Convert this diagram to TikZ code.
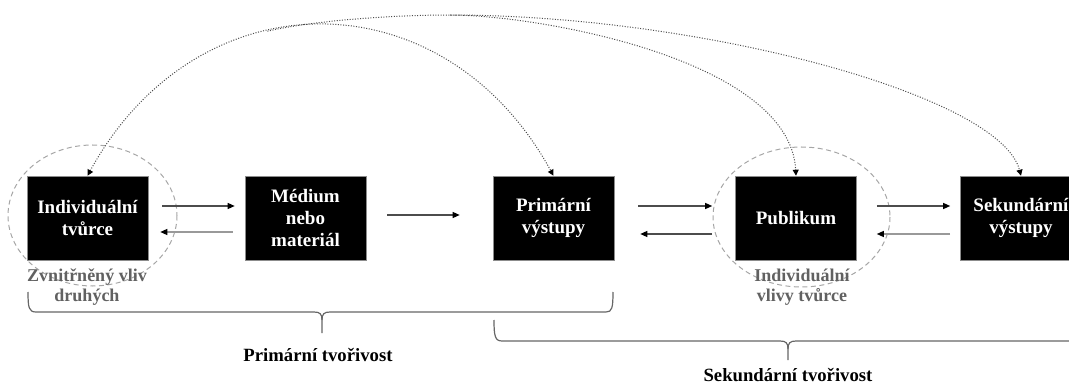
\documentclass[tikz,border=0pt]{standalone}
\usepackage{fontspec}
\setmainfont{Liberation Serif}
\usetikzlibrary{arrows.meta}
\tikzset{
  box/.style={fill=black, draw=black!45, line width=0.6pt, minimum width=121pt, minimum height=84pt,
    inner sep=0pt, text=white, font=\fontsize{19}{22}\selectfont\bfseries, align=center},
  flow/.style={draw=black!70, line width=1.3pt, -{Triangle[length=7pt,width=6pt,color=black]}},
  flowlight/.style={flow, draw=black!40},
  fb/.style={draw=black!70, line width=1pt, dash pattern=on 1pt off 1.6pt},
  fbtip/.style={-{Triangle[length=6pt,width=6pt,color=black]}},
  halo/.style={draw=black!35, line width=1pt, dash pattern=on 5pt off 3.5pt},
  note/.style={text=black!62, font=\fontsize{18}{20}\selectfont\bfseries, align=center, inner sep=0pt},
  bracket/.style={draw=black!60, line width=1.2pt},
  lab/.style={font=\fontsize{18.7}{22}\selectfont\bfseries, inner sep=0pt}
}
\begin{document}
\begin{tikzpicture}[x=1pt,y=-1pt]
\useasboundingbox (0,0) rectangle (1069,385);
\clip (0,0) rectangle (1069,385);

% halos
\draw[halo] (92.5,215.5) ellipse [x radius=84.5, y radius=70.5];
\draw[halo] (801.5,217) ellipse [x radius=88.5, y radius=70];

% boxes
\node[box] (b1) at (87.5,218) {Individuální\\tvůrce};
\node[box] (b2) at (305.5,218) {Médium\\nebo\\materiál};
\node[box] (b3) at (553.5,218) {Primární\\výstupy};
\node[box] (b4) at (796,218) {Publikum};
\node[box] (b5) at (1021,218) {Sekundární\\výstupy};

% flows
\draw[flow] ([yshift=12pt,xshift=14pt]b1.east) -- ([yshift=12pt,xshift=-10pt]b2.west);
\draw[flowlight] ([yshift=-14pt,xshift=-12pt]b2.west) -- ([yshift=-14pt,xshift=12pt]b1.east);
\draw[flow] ([yshift=3pt,xshift=21pt]b2.east) -- ([yshift=3pt,xshift=-33pt]b3.west);
\draw[flow] ([yshift=12pt,xshift=24pt]b3.east) -- ([yshift=12pt,xshift=-23pt]b4.west);
\draw[flow] ([yshift=-16pt,xshift=-23pt]b4.west) -- ([yshift=-16pt,xshift=26pt]b3.east);
\draw[flow] ([yshift=12pt,xshift=20pt]b4.east) -- ([yshift=12pt,xshift=-10pt]b5.west);
\draw[flowlight] ([yshift=-16pt,xshift=-10pt]b5.west) -- ([yshift=-16pt,xshift=20pt]b4.east);

% feedback arcs
\coordinate (jB) at (267.4,31.2);
\coordinate (pk) at (450,15);
\draw[fb, {Triangle[length=6pt,width=6pt,color=black]}-{Triangle[length=6pt,width=6pt,color=black]}]
  (b1.north) .. controls (197.5,-25) and (443.5,-25) .. (b3.north);
\draw[fb, fbtip] (jB) .. controls (311,21) and (390,15) .. (pk)
  .. controls (700,15) and (1000,95) .. (b5.north);
\draw[fb, fbtip] (pk) .. controls (540,15) and (790,60) .. (b4.north);

% notes
\node[note] (n1) at (87,287) {Zvnitřněný vliv\\druhých};
\node[note] (n2) at (802,287) {Individuální\\vlivy tvůrce};

% brackets
\draw[bracket] (28,292) .. controls (28,308) and (29,312) .. (36,312) -- (314,312)
  .. controls (320,312) and (322,314) .. (322,320) -- (322,333);
\draw[bracket] (322,320) .. controls (322,314) and (324,312) .. (330,312) -- (606,312)
  .. controls (612,312) and (613,308) .. (613,292);
\draw[bracket] (494,320) .. controls (494,336) and (495,341) .. (502,341) -- (780,341)
  .. controls (786,341) and (788,343) .. (788,349) -- (788,360);
\draw[bracket] (788,349) .. controls (788,343) and (790,341) .. (796,341) -- (1075,341)
  .. controls (1081,341) and (1082,336) .. (1082,320);

% labels
\node[lab] (l1) at (318,355) {Primární tvořivost};
\node[lab] (l2) at (788,375) {Sekundární tvořivost};
\end{tikzpicture}
\end{document}
